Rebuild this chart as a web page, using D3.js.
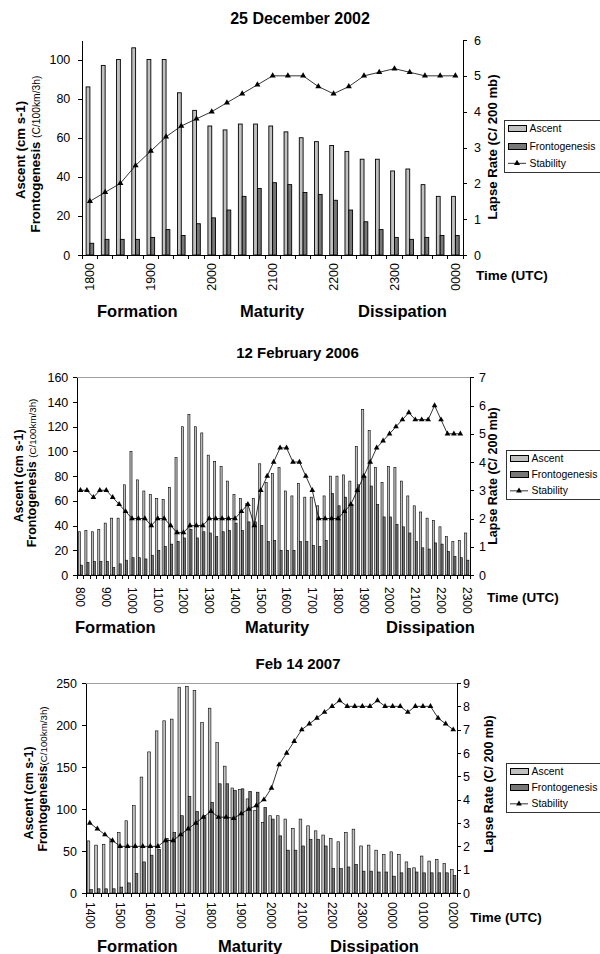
<!DOCTYPE html>
<html>
<head>
<meta charset="utf-8">
<script src="https://d3js.org/d3.v7.min.js"></script>
<style>
  body { margin: 0; background: #fff; }
  text { font-family: "Liberation Sans", Arial, sans-serif; fill: #000; }
</style>
</head>
<body>
<script>
// ---- 25 December 2002 ----
var times1 = ["1800","1815","1830","1845","1900","1915","1930","1945","2000","2015","2030","2045",
  "2100","2115","2130","2145","2200","2215","2230","2245","2300","2315","2330","2345","0000"];
var ticks1 = ["1800","1900","2000","2100","2200","2300","0000"];
var ascent1 = [86,97,100,106,100,100,83,74,66,64,67,67,66,63,60,58,56,53,49,49,43,44,36,30,30];
var fronto1 = [6,8,8,8,9,13,10,16,19,23,30,34,37,36,32,31,28,23,17,13,9,8,9,10,10];
var stab1 = [1.5,1.75,2,2.5,2.9,3.3,3.6,3.8,4,4.25,4.5,4.75,5,5,5,4.7,4.5,4.7,5,5.1,5.2,5.1,5,5,5];

// ---- 12 February 2006 ----
var times2 = ["800","815","830","845","900","915","930","945","1000","1015","1030","1045",
  "1100","1115","1130","1145","1200","1215","1230","1245","1300","1315","1330","1345",
  "1400","1415","1430","1445","1500","1515","1530","1545","1600","1615","1630","1645",
  "1700","1715","1730","1745","1800","1815","1830","1845","1900","1915","1930","1945",
  "2000","2015","2030","2045","2100","2115","2130","2145","2200","2215","2230","2245","2300"];
var ticks2 = ["800","900","1000","1100","1200","1300","1400","1500","1600","1700","1800",
  "1900","2000","2100","2200","2300"];
var ascent2 = [35,36,35,37,42,46,46,73,100,77,68,65,62,61,71,95,120,130,120,115,
  97,92,88,76,65,62,58,62,90,75,82,87,68,64,74,63,63,56,64,80,
  80,81,76,104,134,117,87,75,88,87,76,64,56,51,46,44,39,31,27,28,34];
var fronto2 = [8,10,11,11,11,6,9,12,14,14,13,16,20,23,25,27,30,37,30,35,
  34,31,35,36,42,36,43,43,40,27,28,20,20,20,27,27,24,23,28,66,
  56,63,57,73,80,72,57,47,47,41,39,34,27,22,21,26,25,19,15,14,12];
var stab2 = [3,3,2.75,3,3,2.75,2.5,2.25,2,2,2,1.75,2,2,1.75,1.5,1.5,1.75,1.75,1.75,
  2,2,2,2,2,2.25,2.5,1.75,3,3.5,4,4.5,4.5,4,4,3.5,3,2,2,2,
  2,2.25,2.5,3,3.5,4,4.5,4.75,5,5.25,5.5,5.75,5.5,5.5,5.5,6,5.5,5,5,5,null];

// ---- Feb 14 2007 ----
var times3 = ["1400","1415","1430","1445","1500","1515","1530","1545","1600","1615","1630","1645",
  "1700","1715","1730","1745","1800","1815","1830","1845","1900","1915","1930","1945",
  "2000","2015","2030","2045","2100","2115","2130","2145","2200","2215","2230","2245",
  "2300","2315","2330","2345","0000","0015","0030","0045","0100","0115","0130","0145","0200"];
var ticks3 = ["1400","1500","1600","1700","1800","1900","2000","2100","2200","2300","0000","0100","0200"];
var ascent3 = [62,57,58,64,72,86,104,138,168,193,205,207,245,246,241,203,220,179,151,125,
  123,112,98,84,92,92,88,77,88,80,74,69,65,61,72,76,56,57,51,46,49,46,37,30,44,38,40,35,28];
var fronto3 = [4,5,5,5,7,12,23,37,45,52,65,72,92,115,97,92,108,130,130,122,
  124,121,120,102,88,68,51,51,56,64,64,56,29,29,31,34,26,26,25,25,20,24,29,25,24,24,24,24,21];
var stab3 = [3,2.75,2.5,2.25,2,2,2,2,2,2,2.25,2.25,2.5,2.75,3,3.25,3.5,3.25,3.25,3.2,
  3.4,3.6,3.75,4,4.5,5.5,6,6.5,7,7.25,7.5,7.75,8,8.25,8,8,8,8,8.25,8,8,8,7.75,8,8,8,7.5,7.25,7];

var legendNames = ["Ascent", "Frontogenesis", "Stability"];

var svg = d3.select("body").append("svg")
  .attr("width", 600)
  .attr("height", 954);

function drawPanel(p) {
  var x = d3.scaleBand().domain(p.times)
    .range([p.left, p.right])
    .paddingInner(p.pad).paddingOuter(p.pad / 2);
  var xs = d3.scaleBand().domain(["a", "f"]).range([0, x.bandwidth()]);
  var yL = d3.scaleLinear().domain([0, p.lmax]).range([p.bottom, p.top]);
  var yR = d3.scaleLinear().domain([0, p.rmax]).range([p.bottom, p.top]);
  var gap = (x.step() - x.bandwidth()) / 2;
  var g = svg.append("g");

  // title
  g.append("text")
    .attr("x", p.titleX).attr("y", p.titleY)
    .attr("text-anchor", "middle")
    .attr("font-weight", "bold").attr("font-size", p.titleSize)
    .text(p.title);

  // top frame line
  if (p.frame) {
    g.append("line")
      .attr("x1", p.left).attr("x2", p.right)
      .attr("y1", p.top).attr("y2", p.top)
      .attr("stroke", "#a0a0a0").attr("shape-rendering", "crispEdges");
  }

  // bars
  g.append("g").selectAll("rect")
    .data(p.ascent)
    .enter().append("rect")
      .attr("x", function(d, i) { return x(p.times[i]) + xs("a"); })
      .attr("y", function(d) { return yL(d); })
      .attr("width", xs.bandwidth())
      .attr("height", function(d) { return p.bottom - yL(d); })
      .attr("fill", "#c0c0c0").attr("stroke", "#000").attr("stroke-width", p.sw);
  g.append("g").selectAll("rect")
    .data(p.fronto)
    .enter().append("rect")
      .attr("x", function(d, i) { return x(p.times[i]) + xs("f"); })
      .attr("y", function(d) { return yL(d); })
      .attr("width", xs.bandwidth())
      .attr("height", function(d) { return p.bottom - yL(d); })
      .attr("fill", "#777").attr("stroke", "#000").attr("stroke-width", p.sw);

  // left axis
  var la = g.append("g")
    .attr("transform", "translate(" + p.left + ",0)")
    .call(d3.axisLeft(yL).tickValues(p.lticks).tickFormat(d3.format("d"))
      .tickSize(4).tickSizeOuter(0).tickPadding(p.lpad));
  la.attr("font-family", null).attr("font-size", p.tickSize);
  la.selectAll("path,line").attr("shape-rendering", "crispEdges");

  // right axis
  var ra = g.append("g")
    .attr("transform", "translate(" + p.right + ",0)")
    .call(d3.axisRight(yR).tickValues(p.rticks).tickFormat(d3.format("d"))
      .tickSize(4).tickSizeOuter(0).tickPadding(p.rpad));
  ra.attr("font-family", null).attr("font-size", p.tickSize);
  ra.selectAll("path,line").attr("shape-rendering", "crispEdges");

  // category axis with a tick at each category boundary
  g.append("line")
    .attr("x1", p.left).attr("x2", p.right)
    .attr("y1", p.bottom).attr("y2", p.bottom)
    .attr("stroke", "#000").attr("shape-rendering", "crispEdges");
  var bounds = p.times.map(function(t) { return x(t) - gap; }).concat([p.right]);
  g.append("g").selectAll("line")
    .data(bounds)
    .enter().append("line")
      .attr("x1", function(d) { return d; }).attr("x2", function(d) { return d; })
      .attr("y1", p.bottom).attr("y2", p.bottom + 4)
      .attr("stroke", "#000").attr("shape-rendering", "crispEdges");
  g.append("g").selectAll("text")
    .data(p.ticks)
    .enter().append("text")
      .attr("transform", function(d) {
        return "translate(" + (x(d) + x.bandwidth() / 2) + "," + p.labY + ") rotate(" + p.rot + ")";
      })
      .attr("text-anchor", p.rot < 0 ? "end" : "start")
      .attr("dy", "0.35em")
      .attr("font-size", p.labSize)
      .text(function(d) { return d; });

  // stability line
  var pts = p.times.map(function(t, i) { return [t, p.stab[i]]; });
  var line = d3.line()
    .defined(function(d) { return d[1] != null; })
    .x(function(d) { return x(d[0]) + x.bandwidth() / 2; })
    .y(function(d) { return yR(d[1]); });
  g.append("path").datum(pts)
    .attr("d", line).attr("fill", "none")
    .attr("stroke", "#000").attr("stroke-width", 0.8);
  g.append("g").selectAll("path")
    .data(pts.filter(function(d) { return d[1] != null; }))
    .enter().append("path")
      .attr("d", d3.symbol().type(d3.symbolTriangle).size(p.msize))
      .attr("transform", function(d) {
        return "translate(" + (x(d[0]) + x.bandwidth() / 2) + "," + yR(d[1]) + ")";
      })
      .attr("fill", "#000");

  // axis titles
  g.append("text")
    .attr("transform", "translate(" + p.asX + "," + p.asY + ") rotate(-90)")
    .attr("text-anchor", "middle").attr("font-weight", "bold").attr("font-size", p.axSize)
    .text("Ascent (cm s-1)");
  var ft = g.append("text")
    .attr("transform", "translate(" + p.frX + "," + p.frY + ") rotate(-90)")
    .attr("text-anchor", "middle");
  ft.append("tspan").attr("font-weight", "bold").attr("font-size", p.axSize).text(p.frLabel);
  ft.append("tspan").attr("font-size", p.axSize * 0.78).text("(C/100km/3h)");
  g.append("text")
    .attr("transform", "translate(" + p.lrX + "," + p.lrY + ") rotate(-90)")
    .attr("text-anchor", "middle").attr("font-weight", "bold").attr("font-size", p.axSize)
    .text("Lapse Rate (C/ 200 mb)");
  g.append("text")
    .attr("x", p.timeX).attr("y", p.timeY)
    .attr("font-weight", "bold").attr("font-size", 13.5)
    .text("Time (UTC)");

  // phase labels
  g.append("g").selectAll("text")
    .data(p.phases)
    .enter().append("text")
      .attr("x", function(d) { return d[1]; })
      .attr("y", p.phaseY)
      .attr("font-weight", "bold").attr("font-size", 16.5)
      .text(function(d) { return d[0]; });

  // legend (box runs past the right edge, as in the original)
  var lg = g.append("g").attr("transform", "translate(" + p.legX + "," + p.legY + ")");
  lg.append("rect")
    .attr("x", 0).attr("y", 0).attr("width", 130).attr("height", p.legH)
    .attr("fill", "#fff").attr("stroke", "#333").attr("shape-rendering", "crispEdges");
  var rowH = p.legH / 3;
  legendNames.forEach(function(name, i) {
    var cy = rowH * (i + 0.5);
    if (i < 2) {
      lg.append("rect")
        .attr("x", 4).attr("y", cy - 3).attr("width", 18).attr("height", 6)
        .attr("fill", i == 0 ? "#c0c0c0" : "#777").attr("stroke", "#000")
        .attr("shape-rendering", "crispEdges");
    } else {
      lg.append("line")
        .attr("x1", 4).attr("x2", 22).attr("y1", cy).attr("y2", cy)
        .attr("stroke", "#000").attr("stroke-width", 0.8);
      lg.append("path")
        .attr("d", d3.symbol().type(d3.symbolTriangle).size(p.msize))
        .attr("transform", "translate(13," + cy + ")");
    }
    lg.append("text")
      .attr("x", 25.5).attr("y", cy).attr("dy", "0.35em")
      .attr("font-size", 10.4)
      .text(name);
  });
}

drawPanel({
  title: "25 December 2002", titleX: 300, titleY: 24, titleSize: 16,
  times: times1, ticks: ticks1, ascent: ascent1, fronto: fronto1, stab: stab1,
  left: 82.3, right: 463, top: 40, bottom: 255, pad: 0.5, sw: 0.9,
  lmax: 110, rmax: 6, lticks: [0, 20, 40, 60, 80, 100], rticks: [0, 1, 2, 3, 4, 5, 6],
  lpad: 8, rpad: 7, tickSize: 12.5, frame: false,
  labY: 263, rot: -90, labSize: 12.5, msize: 16,
  asX: 24.5, asY: 150, frX: 40, frY: 154, frLabel: "Frontogenesis ", axSize: 13.2,
  lrX: 497, lrY: 147, timeX: 476, timeY: 280,
  phases: [["Formation", 97], ["Maturity", 240], ["Dissipation", 358]], phaseY: 317,
  legX: 504, legY: 120, legH: 52
});

drawPanel({
  title: "12 February 2006", titleX: 297.5, titleY: 358, titleSize: 15,
  times: times2, ticks: ticks2, ascent: ascent2, fronto: fronto2, stab: stab2,
  left: 77.3, right: 470, top: 377.3, bottom: 575, pad: 0.35, sw: 0.6,
  lmax: 160, rmax: 7, lticks: [0, 20, 40, 60, 80, 100, 120, 140, 160], rticks: [0, 1, 2, 3, 4, 5, 6, 7],
  lpad: 5, rpad: 5, tickSize: 12.5, frame: true,
  labY: 587, rot: 90, labSize: 12, msize: 14,
  asX: 22.5, asY: 476, frX: 36, frY: 473, frLabel: "Frontogenesis ", axSize: 12.5,
  lrX: 497, lrY: 476, timeX: 487, timeY: 602,
  phases: [["Formation", 75], ["Maturity", 245], ["Dissipation", 386]], phaseY: 633,
  legX: 506, legY: 450, legH: 49
});

drawPanel({
  title: "Feb 14 2007", titleX: 298, titleY: 669, titleSize: 15,
  times: times3, ticks: ticks3, ascent: ascent3, fronto: fronto3, stab: stab3,
  left: 86, right: 457, top: 683, bottom: 893, pad: 0.3, sw: 0.6,
  lmax: 250, rmax: 9, lticks: [0, 50, 100, 150, 200, 250], rticks: [0, 1, 2, 3, 4, 5, 6, 7, 8, 9],
  lpad: 5, rpad: 2, tickSize: 12.5, frame: true,
  labY: 902, rot: 90, labSize: 12, msize: 14,
  asX: 32.5, asY: 793, frX: 47, frY: 779, frLabel: "Frontogenesis", axSize: 12.5,
  lrX: 493, lrY: 784, timeX: 470, timeY: 922,
  phases: [["Formation", 97], ["Maturity", 218], ["Dissipation", 330]], phaseY: 952,
  legX: 506, legY: 763, legH: 49
});
</script>
</body>
</html>
